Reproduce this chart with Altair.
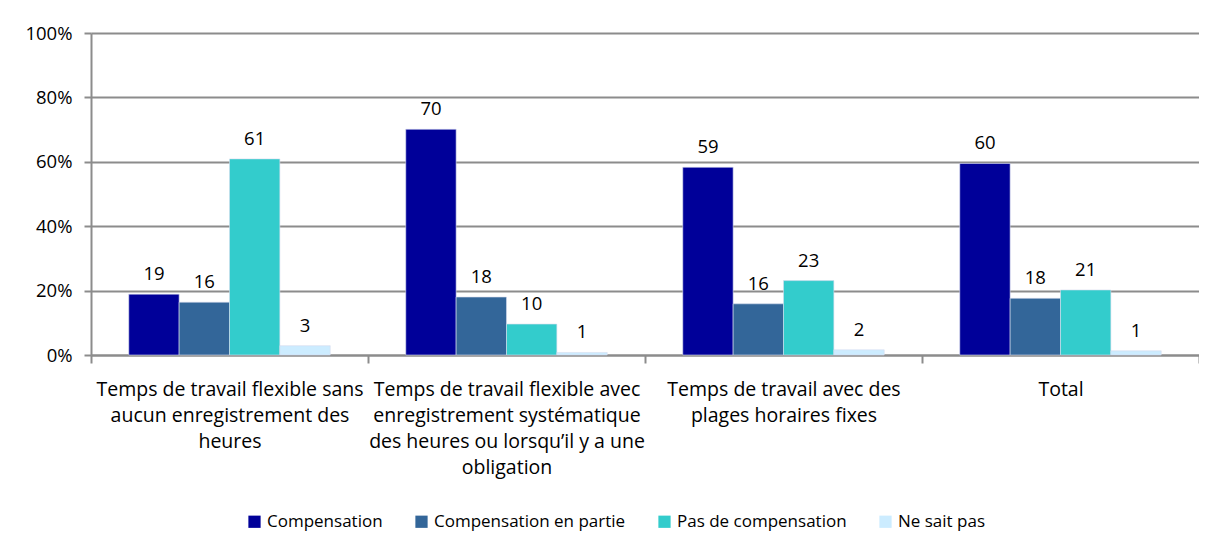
import altair as alt
import pandas as pd

categories = [
    "Temps de travail flexible sans\naucun enregistrement des\nheures",
    "Temps de travail flexible avec\nenregistrement systématique\ndes heures ou lorsqu’il y a une\nobligation",
    "Temps de travail avec des\nplages horaires fixes",
    "Total",
]
series = ["Compensation", "Compensation en partie", "Pas de compensation", "Ne sait pas"]
colors = ["#000099", "#336699", "#33CCCC", "#CCECFF"]

compensation = [18.9, 70.1, 58.3, 59.5]
compensation_en_partie = [16.4, 18.0, 15.9, 17.6]
pas_de_compensation = [60.9, 9.6, 23.1, 20.2]
ne_sait_pas = [2.9, 0.8, 1.6, 1.3]

labels_compensation = [19, 70, 59, 60]
labels_partie = [16, 18, 16, 18]
labels_pas = [61, 10, 23, 21]
labels_nsp = [3, 1, 2, 1]

y_ticks = [0, 20, 40, 60, 80, 100]

rows = []
for s, vals, labs in zip(
    series,
    [compensation, compensation_en_partie, pas_de_compensation, ne_sait_pas],
    [labels_compensation, labels_partie, labels_pas, labels_nsp],
):
    for c, v, l in zip(categories, vals, labs):
        rows.append({"category": c, "series": s, "value": v, "label": str(l)})
df = pd.DataFrame(rows)

FONT = "Open Sans"
FS = 18.5
GRAY = "#8c8c8c"

x_enc = alt.X(
    "category:N",
    sort=categories,
    scale=alt.Scale(paddingInner=0, paddingOuter=0),
    axis=alt.Axis(
        title=None,
        labelAngle=0,
        labelExpr="split(datum.label, '\\n')",
        labelFont=FONT,
        labelFontSize=19.5,
        labelColor="#000000",
        labelLineHeight=26,
        labelLimit=400,
        labelPadding=17,
        labelBaseline="top",
        tickBand="extent",
        ticks=True,
        tickSize=8,
        tickColor=GRAY,
        tickWidth=2,
        domainColor=GRAY,
        domainWidth=2,
        grid=False,
    ),
)
xoff_enc = alt.XOffset(
    "series:N", sort=series, scale=alt.Scale(paddingOuter=0.75, paddingInner=0)
)
y_enc = alt.Y(
    "value:Q",
    scale=alt.Scale(domain=[0, 100], nice=False),
    axis=alt.Axis(
        title=None,
        values=y_ticks,
        labelExpr="datum.value + '%'",
        labelFont=FONT,
        labelFontSize=FS,
        labelColor="#000000",
        labelPadding=12,
        tickSize=7,
        tickColor=GRAY,
        tickWidth=2,
        domainColor=GRAY,
        domainWidth=2,
        grid=True,
        gridColor=GRAY,
        gridWidth=2,
    ),
)

bars = alt.Chart(df).mark_bar(stroke="#d6dcef", strokeWidth=0.6).encode(
    x=x_enc,
    xOffset=xoff_enc,
    y=y_enc,
    color=alt.Color(
        "series:N",
        sort=series,
        scale=alt.Scale(domain=series, range=colors),
        legend=alt.Legend(
            title=None,
            orient="none",
            direction="horizontal",
            legendX=155,
            legendY=480,
            symbolType="square",
            symbolSize=150,
            symbolStrokeWidth=0,
            labelFont=FONT,
            labelFontSize=17,
            labelColor="#000000",
            labelOffset=4,
            labelLimit=400,
            columnPadding=30,
            padding=0,
        ),
    ),
)

text = alt.Chart(df).mark_text(
    dy=-14, baseline="alphabetic", font=FONT, fontSize=FS, color="#000000"
).encode(
    x=alt.X("category:N", sort=categories),
    xOffset=alt.XOffset("series:N", sort=series),
    y=alt.Y("value:Q"),
    text=alt.Text("label:N"),
)

chart = (
    alt.layer(bars, text)
    .properties(
        width=1108,
        height=322,
        padding={"left": 83, "top": 25, "right": 0, "bottom": 178},
        autosize=alt.AutoSizeParams(type="none"),
    )
    .configure_view(stroke=None)
)

chart.save("out.html", embed_options={"renderer": "svg", "actions": False})
